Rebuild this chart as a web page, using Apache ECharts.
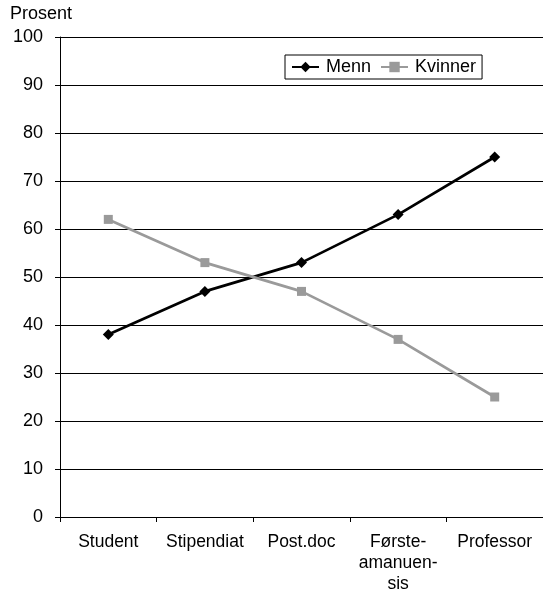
<!DOCTYPE html>
<html><head><meta charset="utf-8">
<script src="https://cdn.jsdelivr.net/npm/echarts@6/dist/echarts.min.js"></script>
<style>html,body{margin:0;padding:0;background:#fff}#c{width:543px;height:595px}</style>
</head><body><div id="c"></div>
<script>
const categories = ["Student", "Stipendiat", "Post.doc", "Første-\namanuen-\nsis", "Professor"];
const menn = [38, 47, 53, 63, 75];
const kvinner = [62, 53, 47, 37, 25];
const yTicks = [0, 10, 20, 30, 40, 50, 60, 70, 80, 90, 100];

const chart = echarts.init(document.getElementById('c'), null, {renderer: 'canvas'});
const font = 'Liberation Sans, Arial, sans-serif';
chart.setOption({
  animation: false,
  backgroundColor: '#fff',
  textStyle: {fontFamily: font},
  grid: {left: 60, top: 37, width: 486, height: 480, containLabel: false},
  graphic: [{type: 'text', left: 10, top: 5, style: {text: 'Prosent', font: '18px ' + font, fill: '#000'}}],
  legend: {
    show: true,
    left: 285, top: 55,
    padding: [3, 6, 3, 6],
    borderColor: '#000', borderWidth: 1,
    itemWidth: 27, itemHeight: 13, itemGap: 9,
    textStyle: {fontSize: 18, color: '#000', fontFamily: font, padding: [0, 0, 0, 2]},
    data: ['Menn', 'Kvinner']
  },
  xAxis: {
    type: 'category', data: categories, boundaryGap: true,
    axisLine: {lineStyle: {color: '#000', width: 1}},
    axisTick: {show: true, length: 5, lineStyle: {color: '#000'}},
    axisLabel: {color: '#000', fontSize: 17.5, fontFamily: font, margin: 15, lineHeight: 21, interval: 0},
    splitLine: {show: false}
  },
  yAxis: {
    type: 'value', min: 0, max: 100, interval: 10,
    axisLine: {show: true, lineStyle: {color: '#000', width: 1}},
    axisTick: {show: true, length: 5, lineStyle: {color: '#000'}},
    axisLabel: {color: '#000', fontSize: 18, fontFamily: font, margin: 17,
      formatter: v => yTicks.includes(v) ? String(v) : ''},
    splitLine: {show: true, lineStyle: {color: '#000', width: 1}}
  },
  series: [
    {name: 'Menn', type: 'line', data: menn, symbol: 'diamond', symbolSize: 11,
      lineStyle: {color: '#000', width: 2.7}, itemStyle: {color: '#000'}},
    {name: 'Kvinner', type: 'line', data: kvinner, symbol: 'rect', symbolSize: 9,
      lineStyle: {color: '#9a9a9a', width: 2.7}, itemStyle: {color: '#9a9a9a'}}
  ]
});
</script></body></html>
